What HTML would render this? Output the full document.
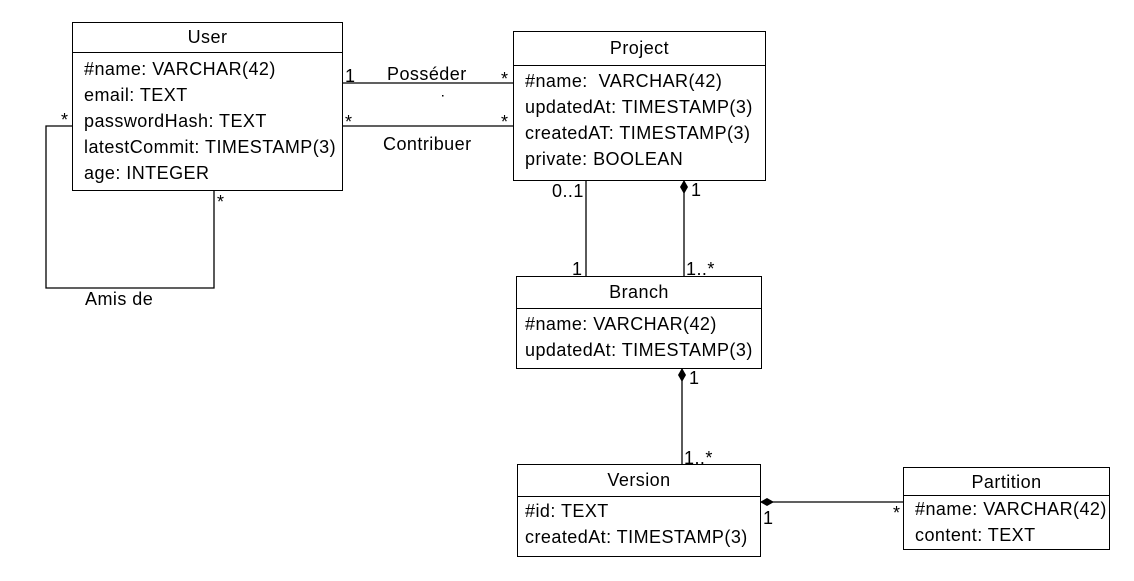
<!DOCTYPE html>
<html><head><meta charset="utf-8"><style>
body{margin:0;background:#fff;width:1134px;height:581px;overflow:hidden;position:relative;font-family:"Liberation Sans",sans-serif;font-size:18px;letter-spacing:0.45px;color:#000}
.b{position:absolute;border:1.3px solid #000;box-sizing:border-box;background:#fff}
.h{text-align:center;border-bottom:1.3px solid #000;box-sizing:border-box}
.r{padding-left:11px;line-height:26px;white-space:nowrap}
.t{position:absolute;white-space:nowrap;line-height:1}
svg{position:absolute;left:0;top:0}
</style></head><body>
<svg width="1134" height="581">
<g stroke="#000" stroke-width="1.3" fill="none">
<line x1="342" y1="83" x2="513" y2="83"/>
<line x1="342" y1="126" x2="513" y2="126"/>
<polyline points="72,126 46,126 46,288 214,288 214,190"/>
<line x1="586" y1="180" x2="586" y2="276"/>
<line x1="684" y1="180" x2="684" y2="276"/>
<line x1="682" y1="368" x2="682" y2="464"/>
<line x1="760" y1="502" x2="903" y2="502"/>
</g>
<g fill="#000">
<polygon points="684,180 688,187 684,194 680,187"/>
<polygon points="682,368 686,375 682,382 678,375"/>
<polygon points="760,502 767,498 774,502 767,506"/>
<rect x="442" y="95" width="1.5" height="1.5"/>
</g>
</svg>
<div class="b" style="left:72px;top:22px;width:271px;height:169px"><div class="h" style="height:30px;line-height:29px">User</div>
<div style="padding-top:3px"><div class="r">#name: VARCHAR(42)</div><div class="r">email: TEXT</div><div class="r">passwordHash: TEXT</div><div class="r">latestCommit: TIMESTAMP(3)</div><div class="r">age: INTEGER</div></div></div>
<div class="b" style="left:513px;top:31px;width:253px;height:150px"><div class="h" style="height:34px;line-height:33px">Project</div>
<div style="padding-top:2px"><div class="r">#name:&nbsp; VARCHAR(42)</div><div class="r">updatedAt: TIMESTAMP(3)</div><div class="r">createdAT: TIMESTAMP(3)</div><div class="r">private: BOOLEAN</div></div></div>
<div class="b" style="left:516px;top:276px;width:246px;height:93px"><div class="h" style="height:32px;line-height:31px">Branch</div>
<div style="padding-top:2px"><div class="r" style="padding-left:8px">#name: VARCHAR(42)</div><div class="r" style="padding-left:8px">updatedAt: TIMESTAMP(3)</div></div></div>
<div class="b" style="left:517px;top:464px;width:244px;height:93px"><div class="h" style="height:32px;line-height:31px">Version</div>
<div style="padding-top:1px"><div class="r" style="padding-left:7px">#id: TEXT</div><div class="r" style="padding-left:7px">createdAt: TIMESTAMP(3)</div></div></div>
<div class="b" style="left:903px;top:467px;width:207px;height:83px"><div class="h" style="height:28px;line-height:28px">Partition</div>
<div style="padding-top:0px"><div class="r">#name: VARCHAR(42)</div><div class="r">content: TEXT</div></div></div>
<div class="t" style="left:345px;top:67px">1</div>
<div class="t" style="left:387px;top:65px">Posséder</div>
<div class="t" style="left:501px;top:70px">*</div>
<div class="t" style="left:345px;top:113px">*</div>
<div class="t" style="left:501px;top:113px">*</div>
<div class="t" style="left:383px;top:135px">Contribuer</div>
<div class="t" style="left:61px;top:111px">*</div>
<div class="t" style="left:217px;top:193px">*</div>
<div class="t" style="left:85px;top:290px">Amis de</div>
<div class="t" style="left:552px;top:182px">0..1</div>
<div class="t" style="left:572px;top:260px">1</div>
<div class="t" style="left:691px;top:181px">1</div>
<div class="t" style="left:686px;top:260px">1..*</div>
<div class="t" style="left:689px;top:369px">1</div>
<div class="t" style="left:684px;top:449px">1..*</div>
<div class="t" style="left:763px;top:509px">1</div>
<div class="t" style="left:893px;top:504px">*</div>
</body></html>
